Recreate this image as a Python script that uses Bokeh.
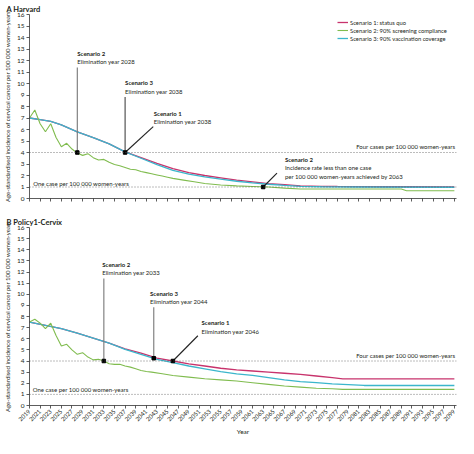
import math
from bokeh.plotting import figure
from bokeh.models import Range1d, FixedTicker, Span, Legend, LegendItem
from bokeh.layouts import column
from bokeh.embed import file_html
from bokeh.resources import INLINE
from bokeh.core.properties import value

FONT = "Lato"
TXT = "#231f20"
RED = "#c8336c"
GREEN = "#80bc4f"
BLUE = "#3bb6cc"
REFC = "#555555"
FS = "6px"

tick_years = list(range(2019, 2100, 2))
y_ticks = list(range(0, 17))

series_names = ["Scenario 1: status quo",
                "Scenario 2: 90% screening compliance",
                "Scenario 3: 90% vaccination coverage"]

# ---------------- Panel A: Harvard ----------------
a_s1_years = [2019, 2021, 2023, 2025, 2028, 2031, 2034, 2037, 2040, 2043, 2046, 2049,
              2052, 2055, 2058, 2061, 2064, 2067, 2070, 2074, 2077, 2082, 2086, 2090, 2099]
a_s1_vals = [7.0, 6.85, 6.7, 6.4, 5.8, 5.3, 4.75, 4.05, 3.55, 3.05, 2.6, 2.25,
             2.0, 1.8, 1.6, 1.45, 1.3, 1.2, 1.1, 1.06, 1.05, 1.04, 1.02, 1.02, 1.0]

a_s3_years = [2019, 2021, 2023, 2025, 2028, 2031, 2034, 2037, 2040, 2043, 2046, 2049,
              2052, 2055, 2058, 2061, 2064, 2067, 2070, 2074, 2080, 2099]
a_s3_vals = [7.0, 6.85, 6.7, 6.4, 5.8, 5.3, 4.75, 4.05, 3.5, 2.95, 2.45, 2.12,
             1.88, 1.68, 1.5, 1.36, 1.24, 1.14, 1.06, 1.02, 1.0, 0.98]

a_s2_years = [2019, 2020, 2021, 2022, 2023, 2024, 2025, 2026, 2027, 2028, 2029, 2030,
              2031, 2032, 2033, 2034, 2035, 2036, 2037, 2038, 2039, 2040, 2041, 2042,
              2043, 2044, 2045, 2046, 2048, 2050, 2052, 2055, 2058, 2061, 2064, 2067,
              2070, 2080, 2089, 2090, 2099]
a_s2_vals = [7.0, 7.7, 6.5, 5.8, 6.5, 5.3, 4.5, 4.8, 4.3, 3.95, 3.75, 3.9,
             3.55, 3.35, 3.4, 3.15, 2.95, 2.85, 2.7, 2.55, 2.5, 2.35, 2.25, 2.15,
             2.05, 1.95, 1.85, 1.75, 1.6, 1.45, 1.3, 1.17, 1.1, 1.05, 1.0, 0.9,
             0.83, 0.83, 0.83, 0.68, 0.68]

a_mark_x = [2028, 2037, 2063]
a_mark_y = [4.0, 4.0, 1.0]

# ---------------- Panel B: Policy1-Cervix ----------------
b_s1_years = [2019, 2022, 2025, 2028, 2031, 2034, 2037, 2040, 2043, 2046, 2049, 2052,
              2055, 2058, 2061, 2064, 2067, 2070, 2073, 2076, 2078, 2099]
b_s1_vals = [7.5, 7.2, 6.9, 6.5, 6.05, 5.6, 5.1, 4.7, 4.25, 4.0, 3.75, 3.55,
             3.35, 3.2, 3.1, 3.0, 2.9, 2.8, 2.65, 2.5, 2.4, 2.4]

b_s3_years = [2019, 2022, 2025, 2028, 2031, 2034, 2037, 2040, 2043, 2046, 2049, 2052,
              2055, 2058, 2061, 2064, 2067, 2070, 2073, 2076, 2079, 2082, 2099]
b_s3_vals = [7.5, 7.2, 6.9, 6.5, 6.05, 5.6, 5.05, 4.6, 4.15, 3.85, 3.55, 3.3,
             3.05, 2.85, 2.7, 2.5, 2.3, 2.15, 2.05, 1.95, 1.88, 1.8, 1.8]

b_s2_years = [2019, 2020, 2021, 2022, 2023, 2024, 2025, 2026, 2027, 2028, 2029, 2030,
              2031, 2032, 2033, 2034, 2035, 2036, 2037, 2038, 2039, 2040, 2041, 2042,
              2044, 2046, 2049, 2052, 2055, 2058, 2061, 2064, 2067, 2070, 2073, 2076,
              2078, 2099]
b_s2_vals = [7.5, 7.75, 7.4, 6.9, 7.4, 6.3, 5.35, 5.5, 5.0, 4.6, 4.75, 4.35,
             4.1, 4.15, 4.0, 3.75, 3.7, 3.7, 3.55, 3.45, 3.3, 3.15, 3.05, 3.0,
             2.85, 2.7, 2.55, 2.4, 2.3, 2.2, 2.05, 1.9, 1.75, 1.65, 1.55, 1.5,
             1.45, 1.45]

b_mark_x = [2033, 2042.4, 2046]
b_mark_y = [4.0, 4.25, 4.0]

FOUR = "Four cases per 100 000 women-years"
ONE = "One case per 100 000 women-years"
YLAB = "Age-standardised incidence of cervical cancer per 100 000 women-years"


def make_panel(h, top, bottom, title, s1, s2, s3, show_xlabels):
    p = figure(width=458, height=h, x_range=Range1d(2019, 2099.4), y_range=Range1d(0, 16),
               output_backend="svg", toolbar_location=None,
               min_border_left=23, min_border_right=2, min_border_top=top,
               min_border_bottom=bottom)
    p.outline_line_color = None
    p.xgrid.visible = False
    p.ygrid.visible = False
    p.background_fill_color = "white"

    p.title.text = title
    p.title.align = "left"
    p.title.offset = -23
    p.title.standoff = 1
    p.title.text_font = FONT
    p.title.text_font_size = "7.5px"
    p.title.text_font_style = "bold"
    p.title.text_color = TXT

    for ax in (p.xaxis[0], p.yaxis[0]):
        ax.axis_line_color = "#333333"
        ax.axis_line_width = 0.8
        ax.major_tick_line_color = "#333333"
        ax.major_tick_line_width = 0.8
        ax.major_tick_in = 0
        ax.major_tick_out = 3
        ax.minor_tick_line_color = None
        ax.major_label_text_font = FONT
        ax.major_label_text_color = TXT
        ax.axis_label_text_font = FONT
        ax.axis_label_text_font_style = "normal"
        ax.axis_label_text_color = TXT

    p.yaxis.ticker = FixedTicker(ticks=y_ticks)
    p.yaxis.major_label_text_font_size = "6.5px"
    p.yaxis.major_label_standoff = 2
    p.yaxis.axis_label = YLAB
    p.yaxis.axis_label_text_font_size = "6px"
    p.yaxis.axis_label_standoff = 3

    p.xaxis.ticker = FixedTicker(ticks=tick_years)
    if show_xlabels:
        p.xaxis.major_label_orientation = math.pi / 4
        p.xaxis.major_label_text_font_size = "6px"
        p.xaxis.major_label_standoff = 2
        p.xaxis.axis_label = "Year"
        p.xaxis.axis_label_text_font_size = "6.5px"
        p.xaxis.axis_label_standoff = 2
    else:
        p.xaxis.major_label_overrides = {t: "" for t in tick_years}
        p.xaxis.major_label_standoff = 0

    for loc in (4, 1):
        p.add_layout(Span(location=loc, dimension="width", line_color=REFC,
                          line_width=0.8, line_dash="1 2"))

    r1 = p.line(s1[0], s1[1], line_color=RED, line_width=1.3)
    r3 = p.line(s3[0], s3[1], line_color=BLUE, line_width=1.3)
    r2 = p.line(s2[0], s2[1], line_color=GREEN, line_width=1.1)
    return p, (r1, r2, r3)


def add_texts(p, xs, ys, texts, bold, align="left"):
    p.text(x=xs, y=ys, text=texts, text_font=value(FONT), text_font_size=FS,
           text_font_style="bold" if bold else "normal", text_color=TXT,
           text_baseline="middle", text_align=align)


# ---------- Panel A ----------
pA, rA = make_panel(211, 14, 13, "A  Harvard",
                    (a_s1_years, a_s1_vals), (a_s2_years, a_s2_vals), (a_s3_years, a_s3_vals),
                    False)
pA.segment(x0=[a_mark_x[0], a_mark_x[1], a_mark_x[1], a_mark_x[2]],
           y0=[a_mark_y[0], a_mark_y[1], a_mark_y[1], a_mark_y[2]],
           x1=[2028, 2037, 2042.3, 2065.6], y1=[11.4, 8.83, 6.25, 2.2],
           line_color=["#777777", "#444444", "#222222", "#222222"], line_width=1.1)
pA.scatter(a_mark_x, a_mark_y, marker="square", size=3.5, color="black")
add_texts(pA, [2028.0, 2037.0, 2042.4, 2067.1], [12.6, 10.05, 7.36, 3.39],
          ["Scenario 2", "Scenario 3", "Scenario 1", "Scenario 2"], True)
add_texts(pA, [2028.0, 2037.0, 2042.4, 2067.1, 2067.1, 2019.7],
          [11.9, 9.33, 6.67, 2.67, 1.92, 1.32],
          ["Elimination year 2028", "Elimination year 2038", "Elimination year 2038",
           "Incidence rate less than one case", "per 100 000 women-years achieved by 2063", ONE],
          False)
add_texts(pA, [2099.2], [4.48], [FOUR], False, align="right")

legend = Legend(items=[LegendItem(label=series_names[0], renderers=[rA[0]]),
                       LegendItem(label=series_names[1], renderers=[rA[1]]),
                       LegendItem(label=series_names[2], renderers=[rA[2]])],
                location=(308, 156), border_line_color=None, background_fill_alpha=0,
                label_text_font=FONT, label_text_font_size="5.8px", label_text_color=TXT,
                glyph_width=11, glyph_height=8, label_height=8, label_standoff=2,
                spacing=0, padding=0, margin=0)
pA.add_layout(legend)

# ---------- Panel B ----------
pB, rB = make_panel(227, 16, 27, "B  Policy1-Cervix",
                    (b_s1_years, b_s1_vals), (b_s2_years, b_s2_vals), (b_s3_years, b_s3_vals),
                    True)
pB.segment(x0=[b_mark_x[0], b_mark_x[1], b_mark_x[2]],
           y0=[b_mark_y[0], b_mark_y[1], b_mark_y[2]],
           x1=[2033, 2042.4, 2050.7], y1=[11.42, 8.83, 6.27],
           line_color=["#777777", "#777777", "#222222"], line_width=1.1)
pB.scatter(b_mark_x, b_mark_y, marker="square", size=3.5, color="black")
add_texts(pB, [2032.7, 2041.7, 2051.4], [12.67, 10.08, 7.42],
          ["Scenario 2", "Scenario 3", "Scenario 1"], True)
add_texts(pB, [2032.7, 2041.7, 2051.4, 2019.6], [11.92, 9.33, 6.67, 1.42],
          ["Elimination year 2033", "Elimination year 2044", "Elimination year 2046", ONE], False)
add_texts(pB, [2099.2], [4.5], [FOUR], False, align="right")

layout = column(pA, pB, spacing=0)
open("out.html", "w").write(file_html(layout, INLINE))
